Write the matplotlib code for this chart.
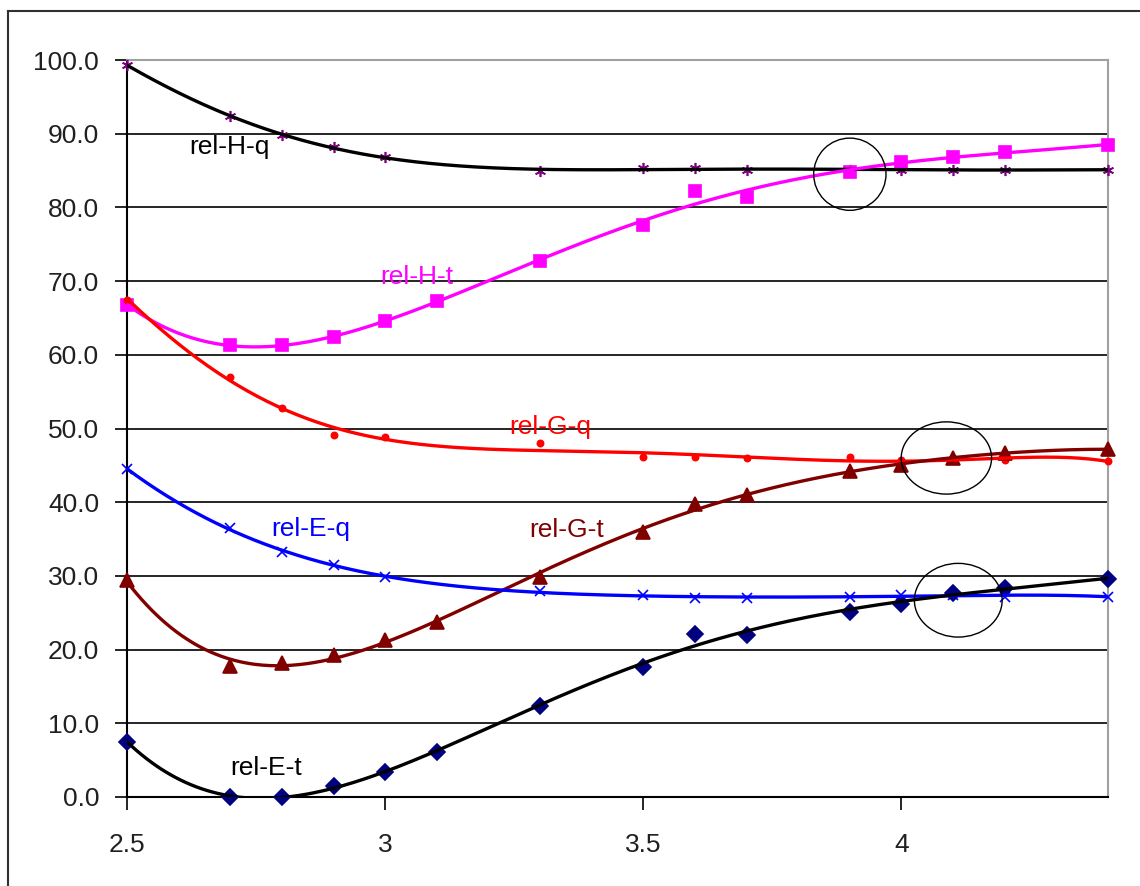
import numpy as np
import matplotlib
matplotlib.use("Agg")
import matplotlib.pyplot as plt
from matplotlib.patches import Ellipse
from matplotlib.lines import Line2D

plt.rcParams['font.family'] = ['Liberation Sans', 'DejaVu Sans']

x_vals = [2.5, 2.7, 2.8, 2.9, 3.0, 3.1, 3.3, 3.5, 3.6, 3.7, 3.9, 4.0, 4.1, 4.2, 4.4]
x_q = [2.5, 2.7, 2.8, 2.9, 3.0, 3.3, 3.5, 3.6, 3.7, 3.9, 4.0, 4.1, 4.2, 4.4]

rel_H_q = [99.3, 92.4, 89.8, 88.2, 86.8, 84.9, 85.3, 85.3, 85.1, 85.1, 85.1, 85.1, 85.1, 85.1]
rel_H_t = [66.8, 61.3, 61.3, 62.4, 64.6, 67.3, 72.7, 77.6, 82.2, 81.4, 84.8, 86.2, 86.8, 87.5, 88.5]
rel_G_q = [67.5, 57.0, 52.8, 49.1, 48.8, 48.0, 46.1, 46.1, 46.0, 46.1, 45.7, 45.7, 45.7, 45.6]
rel_G_t = [29.4, 17.8, 18.2, 19.3, 21.3, 23.7, 29.9, 36.0, 39.8, 41.0, 44.2, 45.0, 46.0, 46.7, 47.2]
rel_E_q = [44.5, 36.5, 33.2, 31.5, 29.9, 27.9, 27.4, 27.0, 27.0, 27.2, 27.4, 27.4, 27.2, 27.2]
rel_E_t = [7.5, 0.0, 0.0, 1.5, 3.4, 6.1, 12.3, 17.6, 22.1, 22.0, 25.1, 26.2, 27.7, 28.4, 29.6]

series_names = ["rel-H-q", "rel-H-t", "rel-G-q", "rel-G-t", "rel-E-q", "rel-E-t"]

fig = plt.figure(figsize=(11.4, 8.86), dpi=100)
W, H = 1140, 886
ax = fig.add_axes([127 / W, 1 - 797 / H, (1108 - 127) / W, (797 - 60) / H])

# outer border (left and top visible)
fig.add_artist(Line2D([8 / W, 8 / W], [0, 1 - 11 / H], transform=fig.transFigure, color='#303030', lw=1.5))
fig.add_artist(Line2D([8 / W, 1], [1 - 11 / H, 1 - 11 / H], transform=fig.transFigure, color='#303030', lw=1.5))

xx = np.linspace(2.5, 4.4, 400)

def trend(xs, ys, order):
    c = np.polyfit(xs, ys, order)
    return np.polyval(c, xx)

specs = [
    (x_q, rel_H_q, 'black', '#800080', (6, 2, 0), 8, 6),
    (x_vals, rel_H_t, '#FF00FF', '#FF00FF', 's', 9, 5),
    (x_q, rel_G_q, '#FF0000', '#FF0000', 'o', 4.5, 6),
    (x_vals, rel_G_t, '#800000', '#800000', '^', 10, 5),
    (x_q, rel_E_q, '#0000FF', '#0000FF', 'x', 6.5, 6),
    (x_vals, rel_E_t, 'black', '#000080', 'D', 8, 5),
]

for xs, ys, lc, mc, mk, ms, order in specs:
    ax.plot(xs, ys, linestyle='none', marker=mk, markersize=ms, color=mc,
            markeredgewidth=1.2, zorder=3, clip_on=False)
    ax.plot(xx, trend(xs, ys, order), color=lc, lw=2.4, zorder=4)

ax.set_xlim(2.5, 4.4)
ax.set_ylim(0, 100)
ax.set_yticks(np.arange(0, 101, 10))
ax.set_yticklabels([f"{v:.1f}" for v in np.arange(0, 101, 10)])
ax.set_xticks([2.5, 3, 3.5, 4])
ax.set_xticklabels(["2.5", "3", "3.5", "4"])
ax.grid(axis='y', color='black', lw=1.2, zorder=1)
ax.tick_params(axis='both', direction='out', length=9, width=1.2, labelsize=19, colors='black')
ax.tick_params(axis='y', pad=11)
ax.tick_params(axis='x', pad=17)
for lbl in ax.get_yticklabels() + ax.get_xticklabels():
    lbl.set_color('#202020')
ax.spines['left'].set_color('black')
ax.spines['bottom'].set_color('black')
ax.spines['left'].set_linewidth(1.5)
ax.spines['bottom'].set_linewidth(1.5)
ax.spines['top'].set_color('#a0a0a0')
ax.spines['right'].set_color('#a0a0a0')
ax.spines['top'].set_linewidth(1.5)
ax.spines['right'].set_linewidth(1.5)
ax.set_axisbelow(True)

# series labels
labels = [
    ("rel-H-q", 2.62, 88.2, 'black'),
    ("rel-H-t", 2.99, 70.6, '#FF00FF'),
    ("rel-G-q", 3.24, 50.2, '#FF0000'),
    ("rel-G-t", 3.28, 36.2, '#800000'),
    ("rel-E-q", 2.78, 36.4, '#0000FF'),
    ("rel-E-t", 2.70, 4.0, 'black'),
]
for t, lx, ly, c in labels:
    ax.text(lx, ly, t, color=c, fontsize=19, va='center', ha='left', zorder=5)

# highlight ellipses
for cx, cy, w, h in [(3.9, 84.5, 0.14, 9.8), (4.087, 46.0, 0.175, 9.8), (4.11, 26.7, 0.17, 10.0)]:
    ax.add_patch(Ellipse((cx, cy), w, h, fill=False, edgecolor='black', lw=1.0, zorder=6))

fig.savefig("out.png", dpi=100, facecolor='white')
